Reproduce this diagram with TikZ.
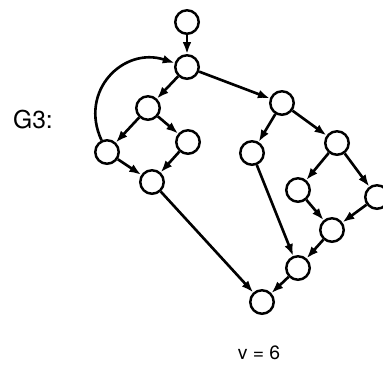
\documentclass[tikz,border=0pt]{standalone}
\usepackage{fontspec}
\setmainfont{TeX Gyre Heros}
\usetikzlibrary{arrows.meta}
\tikzstyle{vertex} = [circle, draw=black, line width=1.4pt, minimum size=0.47cm, inner sep=0pt]
\tikzstyle{line} = [draw, line width=1.5pt, -{Latex[length=6.8pt, width=5pt]}]
\begin{document}
\begin{tikzpicture}[x=0.02cm, y=-0.02cm]
    \useasboundingbox (0,0) rectangle (383,366);
    % Nodes
    \node [vertex] (start) at (187,22) {};
    \node [vertex] (fork) at (187,67) {};
    \node [vertex] (la) at (148,108) {};
    \node [vertex] (lb) at (188,142) {};
    \node [vertex] (lc) at (107,152) {};
    \node [vertex] (ld) at (152,182) {};
    \node [vertex] (ra) at (282,103) {};
    \node [vertex] (rb) at (252,153) {};
    \node [vertex] (rc) at (337,143) {};
    \node [vertex] (rd) at (298,190) {};
    \node [vertex] (re) at (377,197) {};
    \node [vertex] (rf) at (332,230) {};
    \node [vertex] (rg) at (298,268) {};
    \node [vertex] (sink) at (262,302) {};
    \node [font=\fontsize{14}{16}\selectfont] (gname) at (33,120) {G3:};
    \node [font=\fontsize{11}{13}\selectfont] (vcount) at (259,353) {v = 6};

    % Edges
    \path [line] (start) -- (fork);
    \path [line] (fork) -- (la);
    \path [line] (fork) -- (ra);
    \path [line] (lc) to [out=115, in=162, looseness=1.3] (fork);
    \path [line] (la) -- (lc);
    \path [line] (la) -- (lb);
    \path [line] (lc) -- (ld);
    \path [line] (lb) -- (ld);
    \path [line] (ld) -- (sink);
    \path [line] (ra) -- (rb);
    \path [line] (ra) -- (rc);
    \path [line] (rb) -- (rg);
    \path [line] (rc) -- (rd);
    \path [line] (rc) -- (re);
    \path [line] (rd) -- (rf);
    \path [line] (re) -- (rf);
    \path [line] (rf) -- (rg);
    \path [line] (rg) -- (sink);
\end{tikzpicture}
\end{document}
